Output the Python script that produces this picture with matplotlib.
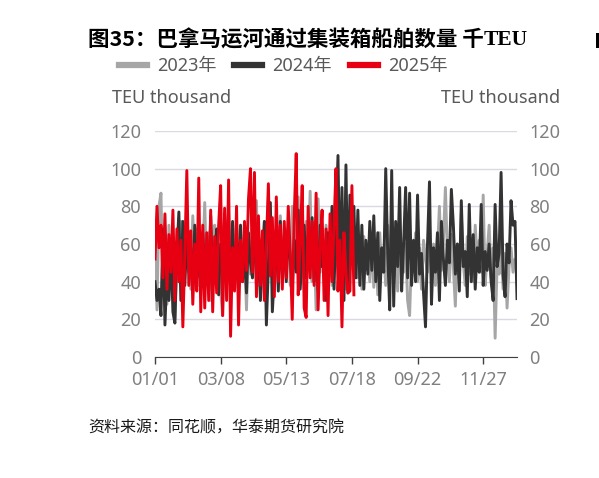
"""Panama Canal container-ship transits, 2023-2025 (thousand TEU), by day of year."""

from datetime import date

import matplotlib
matplotlib.use("Agg")
import matplotlib.pyplot as plt
import numpy as np
from matplotlib.lines import Line2D
from matplotlib.patches import Rectangle

plt.rcParams["font.family"] = ["Noto Sans", "Noto Sans CJK SC", "DejaVu Sans"]

# readings every second day, starting 01/01 (values in thousand TEU)
step_days = 2

teu_2023 = [
    62, 25, 80, 87, 35, 55, 28, 70, 40, 60,
    20, 58, 45, 72, 30, 65, 48, 62, 36, 75,
    44, 68, 38, 60, 52, 82, 40, 66, 30, 58,
    70, 42, 64, 35, 22, 58, 45, 76, 38, 62,
    50, 72, 40, 66, 48, 58, 25, 64, 44, 70,
    52, 83, 38, 62, 46, 72, 40, 82, 50, 60,
    35, 68, 48, 75, 42, 62, 55, 70, 38, 80,
    50, 64, 85, 42, 60, 36, 72, 48, 88, 40,
    62, 25, 84, 45, 66, 40, 70, 52, 58, 38,
    66, 48, 72, 40, 62, 55, 36, 70, 46, 60,
    52, 68, 42, 58, 36, 64, 48, 55, 40, 62,
    37, 60, 33, 66, 45, 56, 38, 70, 48, 62,
    42, 58, 35, 64, 50, 45, 60, 30, 22, 55,
    48, 66, 40, 58, 36, 62, 52, 45, 70, 42,
    60, 38, 56, 80, 46, 62, 90, 55, 40, 65,
    48, 27, 60, 42, 76, 50, 38, 64, 44, 58,
    40, 70, 50, 62, 45, 86, 38, 55, 70, 42,
    58, 10, 50, 44, 62, 36, 55, 26, 48, 58,
    45, 52, 48,
]

teu_2024 = [
    40, 30, 36, 22, 68, 17, 45, 30, 60, 24,
    18, 55, 77, 30, 72, 38, 64, 45, 58, 35,
    70, 42, 55, 38, 66, 46, 60, 35, 75, 40,
    52, 68, 33, 60, 44, 76, 38, 58, 48, 72,
    36, 62, 45, 70, 40, 55, 34, 66, 50, 42,
    78, 38, 60, 30, 52, 72, 17, 48, 82, 24,
    44, 64, 35, 72, 46, 58, 40, 68, 52, 38,
    62, 45, 78, 36, 56, 70, 42, 64, 50, 74,
    40, 60, 35, 70, 48, 56, 30, 66, 45, 80,
    36, 72, 107, 40, 90, 30, 102, 34, 86, 55,
    80, 42, 78, 38, 70, 36, 62, 44, 72, 46,
    75, 40, 66, 30, 58, 45, 100, 55, 25, 99,
    27, 72, 48, 90, 35, 60, 90, 42, 87, 38,
    62, 40, 86, 44, 55, 34, 16, 60, 93, 28,
    58, 45, 66, 30, 72, 52, 38, 62, 50, 89,
    70, 44, 60, 35, 83, 48, 56, 32, 81, 40,
    65, 36, 58, 45, 81, 38, 56, 46, 60, 40,
    30, 81, 48, 55, 98, 44, 32, 60, 50, 83,
    70, 72, 31,
]

teu_2025 = [
    52, 80, 58, 70, 42, 76, 36, 65, 45, 78,
    30, 68, 40, 62, 16, 55, 99, 38, 67, 28,
    60, 35, 95, 24, 70, 26, 66, 30, 78, 24,
    64, 34, 70, 91, 22, 79, 30, 94, 11, 58,
    35, 80, 17, 62, 40, 72, 46, 84, 100, 45,
    98, 32, 75, 38, 67, 30, 60, 92, 43, 74,
    32, 85, 40, 70, 36, 72, 42, 80, 55, 20,
    75, 108, 33, 62, 91, 26, 21, 80, 42, 72,
    38, 87, 25, 58, 78, 30, 68, 22, 76, 40,
    70, 100, 35, 62, 16, 66, 45, 34, 35, 91,
    33,
]

tick_labels = ["01/01", "03/08", "05/13", "07/18", "09/22", "11/27"]
y_ticks = [0, 20, 40, 60, 80, 100, 120]

series = [
    ("2023年", teu_2023, "#a6a6a6"),
    ("2024年", teu_2024, "#333333"),
    ("2025年", teu_2025, "#e60012"),
]


def day_of_year(label):
    month, day = (int(p) for p in label.split("/"))
    return (date(2023, month, day) - date(2023, 1, 1)).days


fig = plt.figure(figsize=(5.99, 4.78), dpi=100)
ax = fig.add_axes([155 / 599, 121 / 478, 362 / 599, 226 / 478])

for name, values, color in series:
    days = np.arange(len(values)) * step_days
    ax.plot(days, values, color=color, lw=2.1, label=name)

ax.set_xlim(0, 364)
ax.set_ylim(0, 120)
ax.set_yticks(y_ticks)
ax.set_xticks([day_of_year(t) for t in tick_labels])
ax.set_xticklabels(tick_labels)
ax.grid(axis="y", color="#d9d9e3", lw=1)
ax.set_axisbelow(True)
for side in ("left", "right", "top"):
    ax.spines[side].set_visible(False)
ax.spines["bottom"].set_color("#404040")
ax.tick_params(axis="x", direction="out", length=5, width=1, color="#404040",
               labelsize=13, labelcolor="#7f7f7f", pad=5)
ax.tick_params(axis="y", length=0, labelsize=13, labelcolor="#7f7f7f", pad=10)

ax2 = ax.twinx()
ax2.set_ylim(ax.get_ylim())
ax2.set_yticks(y_ticks)
for side in ("left", "right", "top", "bottom"):
    ax2.spines[side].set_visible(False)
ax2.tick_params(axis="y", length=0, labelsize=13, labelcolor="#7f7f7f", pad=9)

# axis captions
fig.text(112 / 599, 1 - 98 / 478, "TEU thousand", fontsize=13, color="#595959",
         ha="left", va="center")
fig.text(560 / 599, 1 - 98 / 478, "TEU thousand", fontsize=13, color="#595959",
         ha="right", va="center")

# legend
handles = [Line2D([], [], color=c, lw=4.5) for _, _, c in series]
fig.legend(handles, [n for n, _, _ in series], loc="center left",
           bbox_to_anchor=(119 / 599, 1 - 66 / 478), ncol=3, frameon=False,
           fontsize=13, labelcolor="#595959", handlelength=1.55,
           handletextpad=0.55, columnspacing=1.0, borderpad=0, borderaxespad=0)

# title: CJK part in sans bold, the unit in serif bold
title = fig.text(88 / 599, 1 - 40 / 478, "图35：巴拿马运河通过集装箱船舶数量 千",
                 fontsize=15.5, fontweight="bold", color="black",
                 family=["Noto Sans CJK SC", "DejaVu Sans"], ha="left", va="center")
fig.canvas.draw()
bb = title.get_window_extent()
fig.text(bb.x1 / fig.bbox.width, 1 - 40 / 478, "TEU", fontsize=15.5,
         fontweight="bold", color="black", family="Liberation Serif",
         ha="left", va="center")

# edge of the neighbouring panel's title, cut off by the crop
fig.add_artist(Rectangle((596 / 599, 1 - 48 / 478), 3 / 599, 15 / 478,
                         transform=fig.transFigure, color="black", lw=0))

fig.text(88 / 599, 1 - 428 / 478, "资料来源：同花顺，华泰期货研究院", fontsize=11.5,
         style="italic", color="#1a1a1a", family=["Noto Sans CJK SC"],
         ha="left", va="center")

fig.savefig("out.png", dpi=100)
